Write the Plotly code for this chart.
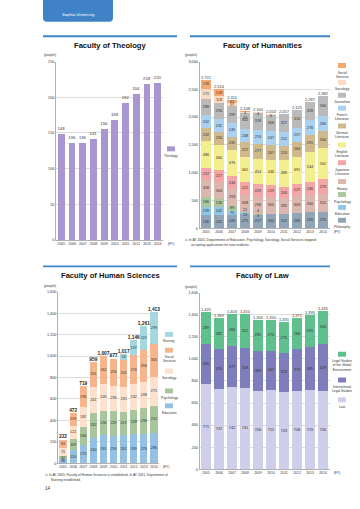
import plotly.graph_objects as go

W, H = 360, 509

years = ["2005", "2006", "2007", "2008", "2009", "2010", "2011", "2012", "2013", "2014"]

# Faculty of Theology
theology = [148, 136, 136, 141, 156, 168, 192, 204, 218, 220]

# Faculty of Humanities (bottom -> top)
hum_philosophy = [236, 241, 243, 271, 257, 262, 252, 269, 290, 295]
hum_education = [139, 142, 75, 13, 3, 0, 0, 0, 0, 0]
hum_psychology = [186, 136, 89, 12, 4, 0, 0, 0, 0, 0]
hum_history = [308, 304, 293, 308, 296, 301, 285, 303, 300, 315]
hum_japanese = [212, 217, 234, 222, 229, 219, 204, 227, 246, 270]
hum_english = [486, 460, 476, 461, 454, 446, 489, 491, 544, 562]
hum_german = [232, 230, 235, 257, 277, 267, 253, 264, 291, 300]
hum_french = [242, 232, 249, 248, 253, 247, 252, 257, 276, 280]
hum_journalism = [288, 294, 299, 302, 318, 306, 317, 314, 328, 360]
hum_sociology = [171, 118, 57, 13, 4, 6, 0, 0, 0, 0]
hum_social = [176, 128, 61, 4, 0, 0, 0, 0, 0, 0]
hum_totals = ["2,721", "2,514", "2,311", "2,108", "2,100", "2,053", "2,057", "2,125", "2,287", "2,382"]

# Faculty of Human Sciences (bottom -> top)
hs_education = [36, 120, 175, 240, 261, 259, 262, 269, 276, 286]
hs_psychology = [32, 109, 166, 232, 230, 229, 219, 228, 236, 252]
hs_sociology = [71, 122, 182, 241, 249, 236, 235, 242, 248, 271]
hs_social = [83, 119, 196, 231, 262, 253, 245, 270, 296, 305]
hs_nursing = [0, 0, 0, 0, 0, 0, 56, 137, 225, 299]
hs_totals = ["222", "472", "719", "959", "1,007", "977", "1,017", "1,146", "1,261", "1,413"]

# Faculty of Law (bottom -> top)
law_law = [771, 732, 742, 741, 706, 715, 703, 708, 719, 706]
law_intl = [365, 355, 377, 358, 369, 361, 353, 379, 385, 429]
law_global = [289, 282, 284, 311, 281, 274, 275, 284, 291, 300]
law_totals = ["1,425", "1,369", "1,403", "1,410", "1,356", "1,350", "1,331", "1,371", "1,395", "1,435"]


def fx(px):
    return px / W


def fy(py):
    return 1 - py / H


FONT = "Liberation Sans, Arial, Helvetica, sans-serif"
TITLE_FONT = "Liberation Sans, Arial, sans-serif"
TXT = "#333333"
SEG = 3.8
SMALL = 30  # segments thinner than this get their label placed beside the stack

fig = go.Figure()
shapes = []
annotations = []


def add_stack(layers, xa, ya, width, totals, tot_font, step=0):
    n = len(years)
    sums = [0] * n
    small_x, small_y, small_t = [], [], []
    top_small = [[] for _ in range(n)]
    for li, (name, vals, color) in enumerate(layers):
        txt = []
        for i, v in enumerate(vals):
            if v >= SMALL or (v > 0 and step == 0):
                txt.append(str(v))
            else:
                txt.append("")
                if v > 0:
                    if li < len(layers) / 2:
                        # lower group: stagger around the segment middle
                        off = -step * 0.55 if li % 2 == 1 else step * 0.55
                        small_x.append(years[i])
                        small_y.append(sums[i] + v / 2 + off)
                        small_t.append(str(v))
                    else:
                        top_small[i].append(v)
        fig.add_trace(go.Bar(
            x=years, y=vals, name=name, width=width,
            marker=dict(color=color, line=dict(width=0)),
            text=txt, textposition="inside", insidetextanchor="middle",
            textangle=0, constraintext="none",
            textfont=dict(size=SEG, color=TXT, family=FONT),
            xaxis=xa, yaxis=ya, showlegend=False, hoverinfo="skip"))
        sums = [s + v for s, v in zip(sums, vals)]
    for i in range(n):
        for k, v in enumerate(reversed(top_small[i])):
            small_x.append(years[i])
            small_y.append(sums[i] - step * (k + 0.5))
            small_t.append(str(v))
    if small_t:
        fig.add_trace(go.Scatter(
            x=small_x, y=small_y, mode="text", text=small_t, textposition="middle center",
            textfont=dict(size=SEG, color=TXT, family=FONT), xaxis=xa, yaxis=ya,
            showlegend=False, hoverinfo="skip", cliponaxis=False))
    fig.add_trace(go.Scatter(
        x=years, y=sums, mode="text", text=totals, textposition="top center",
        textfont=tot_font, xaxis=xa, yaxis=ya, showlegend=False,
        hoverinfo="skip", cliponaxis=False))


# Theology
fig.add_trace(go.Bar(
    x=years, y=theology, width=0.64, marker=dict(color="#a796cf", line=dict(width=0)),
    text=[str(v) for v in theology], textposition="outside", constraintext="none",
    textfont=dict(size=4.2, color=TXT, family=FONT), cliponaxis=False,
    xaxis="x", yaxis="y", showlegend=False, hoverinfo="skip"))

hum_layers = [
    ("Philosophy", hum_philosophy, "#90a6b8"),
    ("Education", hum_education, "#8fc6e9"),
    ("Psychology", hum_psychology, "#a9c89c"),
    ("History", hum_history, "#dbb7ad"),
    ("Japanese Literature", hum_japanese, "#f4a5a5"),
    ("English Literature", hum_english, "#f3ee8e"),
    ("German Literature", hum_german, "#cfb98d"),
    ("French Literature", hum_french, "#abd1f0"),
    ("Journalism", hum_journalism, "#bababa"),
    ("Sociology", hum_sociology, "#fcdac1"),
    ("Social Services", hum_social, "#f6a872"),
]
add_stack(hum_layers, "x2", "y2", 0.7, hum_totals, dict(size=4, color=TXT, family=FONT), step=80)

hs_layers = [
    ("Education", hs_education, "#94c0e3"),
    ("Psychology", hs_psychology, "#a8c59b"),
    ("Sociology", hs_sociology, "#fde1cc"),
    ("Social Services", hs_social, "#f6b58c"),
    ("Nursing", hs_nursing, "#a4d8de"),
]
add_stack(hs_layers, "x3", "y3", 0.72, hs_totals,
          dict(size=4.8, color="#222222", family=FONT, weight="bold"))

law_layers = [
    ("Law", law_law, "#cfcfec"),
    ("International Legal Studies", law_intl, "#7d7ebb"),
    ("Legal Studies of the Global Environment", law_global, "#5fbf8d"),
]
add_stack(law_layers, "x4", "y4", 0.72, law_totals, dict(size=4, color=TXT, family=FONT))

layout = dict(
    width=W, height=H, margin=dict(l=0, r=0, t=0, b=0),
    paper_bgcolor="white", plot_bgcolor="white",
    barmode="stack", bargap=0.3,
    font=dict(family=FONT, color=TXT),
)


def set_axes(n, xdom, ydom, yrange, dtick, fmt):
    xk = "xaxis" if n == 1 else "xaxis%d" % n
    yk = "yaxis" if n == 1 else "yaxis%d" % n
    xa = "x" if n == 1 else "x%d" % n
    ya = "y" if n == 1 else "y%d" % n
    layout[xk] = dict(domain=[fx(xdom[0]), fx(xdom[1])], anchor=ya, type="category",
                      showgrid=False, showline=True, linecolor="#b0b0b0", linewidth=0.6,
                      ticks="", tickfont=dict(size=3.4, color=TXT, family=FONT),
                      fixedrange=True)
    layout[yk] = dict(domain=[fy(ydom[1]), fy(ydom[0])], anchor=xa, range=yrange,
                      dtick=dtick, tickformat=fmt, showgrid=True, gridcolor="#dcdcdc",
                      gridwidth=0.6, showline=True, linecolor="#b0b0b0", linewidth=0.6,
                      ticks="", zeroline=False,
                      tickfont=dict(size=3.8, color=TXT, family=FONT), fixedrange=True)


set_axes(1, (56, 163), (60, 240), [0, 250], 50, "d")
set_axes(2, (199.5, 329.5), (60, 228), [0, 3000], 500, ",d")
set_axes(3, (58, 159), (292, 465), [0, 1600], 200, ",d")
set_axes(4, (199.5, 329.5), (293, 471), [0, 1600], 200, ",d")


def text(t, x, y, size, xanchor="left", yanchor="middle", color=TXT, family=FONT, bold=False):
    f = dict(size=size, color=color, family=family)
    if bold:
        f["weight"] = "bold"
    annotations.append(dict(text=t, x=fx(x), y=fy(y), xref="paper", yref="paper",
                            xanchor=xanchor, yanchor=yanchor, showarrow=False,
                            font=f, align="center" if xanchor == "center" else "left"))


def legend(items, xc, sw=8, sh=5):
    for label, color, ys in items:
        shapes.append(dict(type="rect", xref="paper", yref="paper",
                           x0=fx(xc - sw / 2), x1=fx(xc + sw / 2),
                           y0=fy(ys + sh / 2), y1=fy(ys - sh / 2),
                           fillcolor=color, line=dict(width=0)))
        annotations.append(dict(text=label, x=fx(xc), y=fy(ys + sh / 2 + 0.6),
                                xref="paper", yref="paper", xanchor="center", yanchor="top",
                                showarrow=False, align="center",
                                font=dict(size=3.3, color=TXT, family=FONT)))


# header tab
x0, x1, yt, yb = fx(43), fx(113), fy(-3), fy(20)
rx, ry = 4 / W, 4 / H
shapes.append(dict(type="path", xref="paper", yref="paper", fillcolor="#3f82c6",
                   line=dict(width=0),
                   path="M %f,%f L %f,%f L %f,%f Q %f,%f %f,%f L %f,%f Q %f,%f %f,%f Z" % (
                       x0, yt, x1, yt, x1, yb + ry, x1, yb, x1 - rx, yb,
                       x0 + rx, yb, x0, yb, x0, yb + ry)))
text("Sophia University", 78, 13, 4.2, xanchor="center", color="white")

# section lines and titles
for (lx0, lx1, ly) in [(43, 177, 34.5), (190, 330, 34.5), (43, 177, 266.5), (190, 330, 266.5)]:
    shapes.append(dict(type="line", xref="paper", yref="paper", x0=fx(lx0), x1=fx(lx1),
                       y0=fy(ly), y1=fy(ly), line=dict(color="#3d87c8", width=1.8)))

text("Faculty of Theology", 110, 43.5, 7.6, xanchor="center", color="#111111", family=TITLE_FONT, bold=True)
text("Faculty of Humanities", 262, 43.5, 7.6, xanchor="center", color="#111111", family=TITLE_FONT, bold=True)
text("Faculty of Human Sciences", 110, 276, 7.6, xanchor="center", color="#111111", family=TITLE_FONT, bold=True)
text("Faculty of Law", 262, 276, 7.6, xanchor="center", color="#111111", family=TITLE_FONT, bold=True)

# units
text("(people)", 42, 53, 3.3)
text("(people)", 183, 53, 3.3)
text("(people)", 42, 286, 3.3)
text("(people)", 183, 287, 3.3)

# fiscal year markers
text("(FY)", 166, 243.5, 3.3)
text("(FY)", 332, 231.5, 3.3)
text("(FY)", 161, 468.5, 3.3)
text("(FY)", 332, 474.5, 3.3)

# footnotes
text("※ In AY 2005, Departments of Education, Psychology, Sociology, Social Services stopped", 183, 240, 3.3)
text("accepting applications for new students.", 189, 245, 3.3)
text("※ In AY 2005, Faculty of Human Sciences is established. In AY 2011, Department of", 43, 477, 3.3)
text("Nursing established.", 49, 482, 3.3)
text("14", 43, 490, 4.5)

# legends
legend([("Theology", "#a796cf", 148)], 171)
legend([
    ("Social<br>Services", "#f6a872", 64),
    ("Sociology", "#fcdac1", 81),
    ("Journalism", "#bababa", 94),
    ("French<br>Literature", "#abd1f0", 107),
    ("German<br>Literature", "#cfb98d", 125),
    ("English<br>Literature", "#f3ee8e", 144),
    ("Japanese<br>Literature", "#f4a5a5", 162),
    ("History", "#dbb7ad", 181),
    ("Psychology", "#a9c89c", 194),
    ("Education", "#8fc6e9", 207),
    ("Philosophy", "#90a6b8", 220),
], 342)
legend([
    ("Nursing", "#a4d8de", 335),
    ("Social<br>Services", "#f6b58c", 351),
    ("Sociology", "#fde1cc", 372),
    ("Psychology", "#a8c59b", 392),
    ("Education", "#94c0e3", 407),
], 169)
legend([
    ("Legal Studies<br>of the Global<br>Environment", "#5fbf8d", 355),
    ("International<br>Legal Studies", "#7d7ebb", 381),
    ("Law", "#cfcfec", 401),
], 342)

layout["shapes"] = shapes
layout["annotations"] = annotations
fig.update_layout(**layout)
fig.write_html("out.html", config={"displayModeBar": False},
               post_script="document.body.style.margin='0';document.body.style.overflow='hidden';")
